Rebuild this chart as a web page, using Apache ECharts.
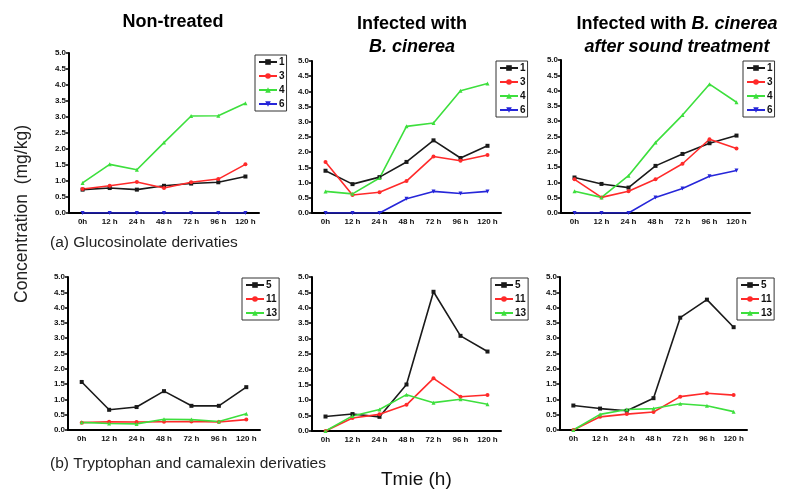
<!DOCTYPE html>
<html><head><meta charset="utf-8">
<script src="https://cdn.jsdelivr.net/npm/echarts@6/dist/echarts.min.js"></script>
<style>html,body{margin:0;padding:0;background:#fff}#c{width:796px;height:496px}</style>
</head><body><div id="c"></div>
<script>
const categories = ['0h','12 h','24 h','48 h','72 h','96 h','120 h'];
const yTicks = ['0.0','0.5','1.0','1.5','2.0','2.5','3.0','3.5','4.0','4.5','5.0'];

// (a) Glucosinolate derivaties
const nt_1 = [0.73,0.78,0.73,0.85,0.92,0.96,1.14];
const nt_3 = [0.75,0.85,0.97,0.78,0.96,1.06,1.52];
const nt_4 = [0.94,1.52,1.35,2.20,3.03,3.04,3.43];
const nt_6 = [0,0,0,0,0,0,0];

const inf_1 = [1.39,0.95,1.18,1.68,2.39,1.81,2.21];
const inf_3 = [1.68,0.59,0.68,1.05,1.86,1.72,1.91];
const inf_4 = [0.71,0.63,1.15,2.85,2.96,4.02,4.26];
const inf_6 = [0,0,0,0.47,0.71,0.64,0.71];

const snd_1 = [1.16,0.95,0.83,1.54,1.93,2.28,2.53];
const snd_3 = [1.10,0.51,0.71,1.10,1.61,2.41,2.11];
const snd_4 = [0.71,0.51,1.22,2.30,3.20,4.21,3.62];
const snd_6 = [0,0,0,0.51,0.80,1.20,1.39];

// (b) Tryptophan and camalexin derivaties
const nt_5 = [1.57,0.66,0.75,1.27,0.79,0.79,1.40];
const nt_11 = [0.24,0.27,0.26,0.27,0.28,0.26,0.34];
const nt_13 = [0.25,0.21,0.20,0.35,0.34,0.28,0.53];

const inf_5 = [0.47,0.55,0.46,1.51,4.52,3.09,2.58];
const inf_11 = [0,0.42,0.54,0.85,1.71,1.11,1.17];
const inf_13 = [0,0.49,0.70,1.18,0.92,1.03,0.87];

const snd_5 = [0.80,0.70,0.63,1.04,3.67,4.26,3.36];
const snd_11 = [0,0.43,0.52,0.59,1.09,1.20,1.14];
const snd_13 = [0,0.51,0.67,0.70,0.86,0.79,0.60];

const styles = {
  '1': {color:'#1a1a1a', symbol:'rect', rot:0},
  '3': {color:'#ff2a2a', symbol:'circle', rot:0},
  '4': {color:'#3ddf3d', symbol:'triangle', rot:0},
  '6': {color:'#2626d9', symbol:'triangle', rot:180},
  '5': {color:'#1a1a1a', symbol:'rect', rot:0},
  '11': {color:'#ff2a2a', symbol:'circle', rot:0},
  '13': {color:'#3ddf3d', symbol:'triangle', rot:0}
};

const panels = [
  {grid:{left:69, top:53, width:190, height:160}, legend:{left:255, top:55}, data:{'1':nt_1,'3':nt_3,'4':nt_4,'6':nt_6}},
  {grid:{left:312, top:61, width:189, height:152}, legend:{left:496, top:61}, data:{'1':inf_1,'3':inf_3,'4':inf_4,'6':inf_6}},
  {grid:{left:561, top:60, width:189, height:153}, legend:{left:743, top:61}, data:{'1':snd_1,'3':snd_3,'4':snd_4,'6':snd_6}},
  {grid:{left:68, top:277, width:192, height:153}, legend:{left:242, top:278}, data:{'5':nt_5,'11':nt_11,'13':nt_13}},
  {grid:{left:312, top:277, width:189, height:154}, legend:{left:491, top:278}, data:{'5':inf_5,'11':inf_11,'13':inf_13}},
  {grid:{left:560, top:277, width:187, height:153}, legend:{left:737, top:278}, data:{'5':snd_5,'11':snd_11,'13':snd_13}}
];

const grid=[], xAxis=[], yAxis=[], series=[], legend=[];
const axisFont = {fontSize:8, fontWeight:'bold', color:'#111', fontFamily:'Liberation Sans, Arial, sans-serif'};
panels.forEach((p,i)=>{
  grid.push(p.grid);
  xAxis.push({type:'category', gridIndex:i, data:categories, boundaryGap:true,
    axisLine:{lineStyle:{color:'#000', width:2}},
    axisTick:{alignWithLabel:true, length:3, lineStyle:{color:'#000', width:1.5}},
    axisLabel:Object.assign({margin:5, interval:0}, axisFont), splitLine:{show:false}});
  yAxis.push({type:'value', gridIndex:i, min:0, max:5, interval:0.5,
    axisLine:{show:true, lineStyle:{color:'#000', width:2}},
    axisTick:{show:true, length:3, lineStyle:{color:'#000', width:1.5}},
    axisLabel:Object.assign({margin:3, formatter:(v)=>yTicks[Math.round(v*2)]}, axisFont),
    splitLine:{show:false}});
  const names = Object.keys(p.data);
  names.forEach(n=>{
    const s = styles[n];
    series.push({type:'line', name:n, xAxisIndex:i, yAxisIndex:i, data:p.data[n],
      symbol:s.symbol, symbolRotate:s.rot, symbolSize:4, showSymbol:true,
      lineStyle:{color:s.color, width:1.6}, itemStyle:{color:s.color},
      animation:false});
  });
  legend.push({data:names, left:p.legend.left, top:p.legend.top, orient:'vertical',
    borderColor:'#333', borderWidth:1, padding:[2,2,2,3], itemGap:4, itemWidth:18, itemHeight:7,
    textStyle:{fontSize:10, fontWeight:'bold', color:'#111', padding:[0,0,0,-3], fontFamily:'Liberation Sans, Arial, sans-serif'},
    selectedMode:false});
});

const titleFont = 'Liberation Sans, Arial, sans-serif';
const title = [
  {text:'Non-treated', left:168, top:8, textAlign:'center', textStyle:{fontSize:18, fontWeight:'bold', color:'#000', fontFamily:titleFont}},
  {text:'Infected with\n{i|B. cinerea}', left:407, top:8, textAlign:'center',
    textStyle:{fontSize:18, fontWeight:'bold', color:'#000', fontFamily:titleFont, lineHeight:23,
      rich:{i:{fontSize:18, fontWeight:'bold', fontStyle:'italic', fontFamily:titleFont, lineHeight:23}}}},
  {text:'Infected with {i|B. cinerea}\n{i|after sound treatment}', left:672, top:8, textAlign:'center',
    textStyle:{fontSize:18, fontWeight:'bold', color:'#000', fontFamily:titleFont, lineHeight:23,
      rich:{i:{fontSize:18, fontWeight:'bold', fontStyle:'italic', fontFamily:titleFont, lineHeight:23}}}},
  {text:'(a) Glucosinolate derivaties', left:45, top:230, textStyle:{fontSize:15.5, fontWeight:'normal', color:'#222', fontFamily:'Liberation Sans, Arial, sans-serif'}},
  {text:'(b) Tryptophan and camalexin derivaties', left:45, top:451, textStyle:{fontSize:15.5, fontWeight:'normal', color:'#222', fontFamily:'Liberation Sans, Arial, sans-serif'}},
  {text:'Tmie (h)', left:376, top:465, textStyle:{fontSize:19, fontWeight:'normal', color:'#111', fontFamily:'Liberation Sans, Arial, sans-serif'}}
];

const chart = echarts.init(document.getElementById('c'), null, {renderer:'canvas'});
chart.setOption({
  backgroundColor:'#fff', animation:false,
  title, grid, xAxis, yAxis, series, legend,
  graphic:[{type:'text', left:13, top:125, rotation:Math.PI/2,
    style:{text:'Concentration  (mg/kg)', fontSize:17.5, fill:'#222', fontFamily:'Liberation Sans, Arial, sans-serif'}}]
});
</script></body></html>
